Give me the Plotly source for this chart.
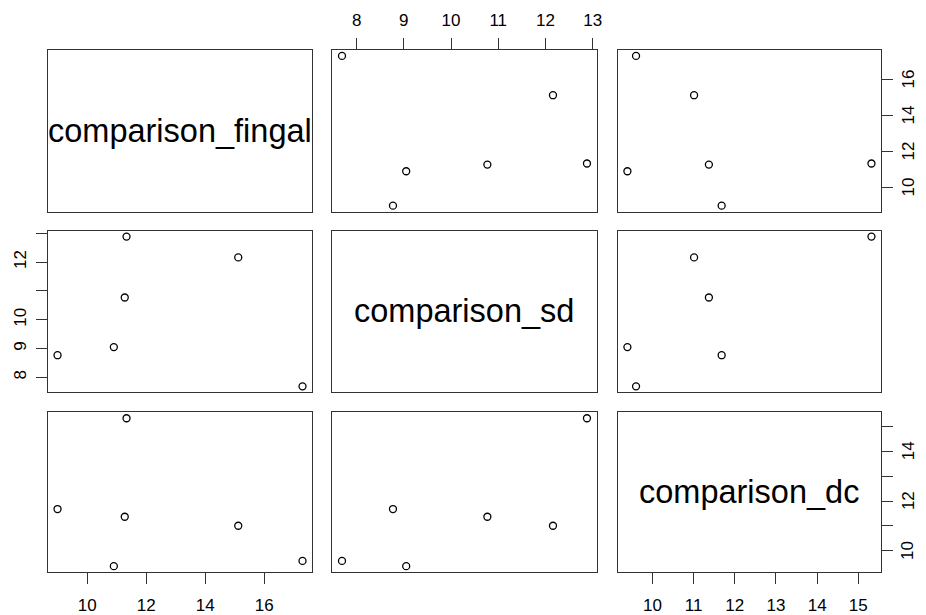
import plotly.graph_objects as go

# Scatterplot matrix of three comparison measures (6 observations each)
names = ["comparison_fingal", "comparison_sd", "comparison_dc"]
fingal = [8.99, 10.90, 11.27, 11.33, 15.12, 17.30]
sd = [8.77, 9.05, 10.77, 12.88, 12.16, 7.69]
dc = [11.68, 9.39, 11.37, 15.32, 11.01, 9.60]
variables = [fingal, sd, dc]

# tick positions per variable and the labels printed on each kind of axis
tick_vals = [[10, 12, 14, 16], [8, 9, 10, 11, 12, 13], [10, 11, 12, 13, 14, 15]]
x_tick_text = [["10", "12", "14", "16"],
               ["8", "9", "10", "11", "12", "13"],
               ["10", "11", "12", "13", "14", "15"]]
y_tick_text = [["10", "12", "14", "16"],
               ["8", "9", "10", "", "12", ""],
               ["10", "", "12", "", "14", ""]]

W, H = 926, 615
col_px = [(48, 314), (334, 600), (621, 886)]
row_px = [(50, 212), (231, 393), (413, 573)]
RIGHT_LABEL_X = 913   # centre of the rotated labels on the right-hand axes
FONT = "Liberation Sans, Arial, sans-serif"
TICK_FONT = dict(family=FONT, size=17, color="#000000")


def padded(vals):
    lo, hi = min(vals), max(vals)
    r = hi - lo
    return [lo - 0.04 * r, hi + 0.04 * r]


fig = go.Figure()
layout = dict(
    width=W, height=H,
    margin=dict(l=0, r=0, t=0, b=0),
    paper_bgcolor="white", plot_bgcolor="white",
    showlegend=False,
    annotations=[],
)

n = len(variables)
for i in range(n):          # row -> y variable
    for j in range(n):      # column -> x variable
        k = i * n + j + 1
        xname = "x" if k == 1 else f"x{k}"
        yname = "y" if k == 1 else f"y{k}"
        xkey = "xaxis" if k == 1 else f"xaxis{k}"
        ykey = "yaxis" if k == 1 else f"yaxis{k}"

        x0, x1 = col_px[j]
        y0, y1 = row_px[i]

        if i != j:
            fig.add_trace(go.Scatter(
                x=variables[j], y=variables[i], mode="markers",
                xaxis=xname, yaxis=yname,
                marker=dict(symbol="circle-open", size=7,
                            color="#000000", line=dict(width=1.3, color="#000000")),
                hoverinfo="x+y",
            ))
        else:
            fig.add_trace(go.Scatter(x=[], y=[], xaxis=xname, yaxis=yname,
                                     mode="markers"))
            layout["annotations"].append(dict(
                text=names[i], xref="paper", yref="paper",
                x=(x0 + x1) / 2 / W, y=1 - (y0 + y1) / 2 / H,
                xanchor="center", yanchor="middle", showarrow=False,
                font=dict(family=FONT, size=32.5, color="#000000"),
            ))

        xa = dict(
            domain=[x0 / W, x1 / W], anchor=yname,
            range=padded(variables[j]),
            showgrid=False, zeroline=False,
            showline=True, mirror=True, linecolor="#333333", linewidth=1.2,
            ticks="", showticklabels=False,
        )
        ya = dict(
            domain=[1 - y1 / H, 1 - y0 / H], anchor=xname,
            range=padded(variables[i]),
            showgrid=False, zeroline=False,
            showline=True, mirror=True, linecolor="#333333", linewidth=1.2,
            ticks="", showticklabels=False,
        )

        # x axes: bottom on columns 1 and 3 of the last row, top on column 2 of the first row
        if (i == n - 1 and j % 2 == 0) or (i == 0 and j % 2 == 1):
            bottom = i == n - 1
            xa.update(side="bottom" if bottom else "top",
                      ticks="outside", ticklen=11, tickwidth=1.2, tickcolor="#333333",
                      tickmode="array", tickvals=tick_vals[j], ticktext=x_tick_text[j],
                      showticklabels=True, tickfont=TICK_FONT,
                      ticklabelstandoff=6 if bottom else 5)
        # y axes: left on row 2 of the first column
        if j == 0 and i % 2 == 1:
            ya.update(side="left",
                      ticks="outside", ticklen=11, tickwidth=1.2, tickcolor="#333333",
                      tickmode="array", tickvals=tick_vals[i], ticktext=y_tick_text[i],
                      showticklabels=True, tickfont=TICK_FONT, tickangle=-90,
                      ticklabelstandoff=3)
        # right on rows 1 and 3 of the last column; labels placed at the tick values
        if j == n - 1 and i % 2 == 0:
            ya.update(side="right",
                      ticks="outside", ticklen=11, tickwidth=1.2, tickcolor="#333333",
                      tickmode="array", tickvals=tick_vals[i], showticklabels=False)
            for v, t in zip(tick_vals[i], y_tick_text[i]):
                if t:
                    layout["annotations"].append(dict(
                        text=t, xref="paper", yref=yname,
                        x=RIGHT_LABEL_X / W, y=v, textangle=-90,
                        xanchor="center", yanchor="middle", showarrow=False,
                        font=TICK_FONT,
                    ))

        layout[xkey] = xa
        layout[ykey] = ya

fig.update_layout(**layout)
fig.write_html("out.html")
